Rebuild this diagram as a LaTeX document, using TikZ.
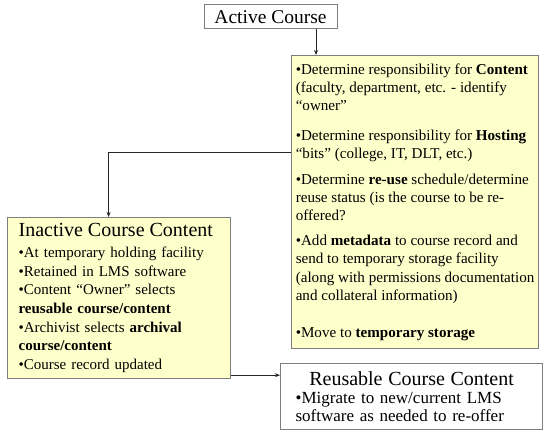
\documentclass[tikz,border=0pt]{standalone}
\usepackage{fontspec}
\setmainfont{Liberation Serif}
\usetikzlibrary{arrows.meta,positioning}
\definecolor{notefill}{RGB}{255,255,204}
\definecolor{boxline}{RGB}{125,125,125}
\newcommand{\titlesize}{\fontsize{20}{22}\selectfont}
\begin{document}
\begin{tikzpicture}[
  x=1pt, y=-1pt,
  titlebox/.style={draw=boxline, line width=1pt, fill=white,
                   minimum width=133pt, minimum height=24pt,
                   inner sep=0pt, font=\fontsize{19.5}{22}\selectfont},
  notebox/.style={draw=boxline, line width=1.2pt, fill=notefill,
                  anchor=north west, inner sep=0pt, align=left},
  arr/.style={-{Stealth[length=5pt,width=4pt]}, line width=0.8pt, black!85}
]
\useasboundingbox (0,0) rectangle (550,435);
\node[titlebox] (active) at (270.5,17) {Active Course};
\node[notebox, minimum width=247pt, minimum height=293pt,
      font=\fontsize{15.1}{18.2}\selectfont] (info) at (291,55)
  {•Determine responsibility for \textbf{Content}\\
   (faculty, department, etc. - identify\\
   “owner”\\[12pt]
   •Determine responsibility for \textbf{Hosting}\\
   “bits” (college, IT, DLT, etc.)\\[7pt]
   •Determine \textbf{re-use} schedule/determine\\
   reuse status (is the course to be re-\\
   offered?\\[7pt]
   •Add \textbf{metadata} to course record and\\
   send to temporary storage facility\\
   (along with permissions documentation\\
   and collateral information)\\[19pt]
   •Move to \textbf{temporary storage}};
\node[notebox, minimum width=223pt, minimum height=161pt, text width=201pt,
      font=\fontsize{15}{18.7}\selectfont] (inactive) at (7,217)
  {{\titlesize Inactive Course Content}\\[2pt]
   •At temporary holding facility\\
   •Retained in LMS software\\
   •Content “Owner” selects\\
   \textbf{reusable course/content}\\
   •Archivist selects \textbf{archival}\\
   \textbf{course/content}\\
   •Course record updated};
\node[notebox, fill=white, minimum width=262pt, minimum height=66pt,
      text width=232pt, font=\fontsize{17}{18.4}\selectfont] (reuse) at (280,363)
  {\centering{\titlesize Reusable Course Content}\par
   \raggedright •Migrate to new/current LMS\\
   software as needed to re-offer};
% connectors
\coordinate (drop) at ([xshift=45.5pt]active.south);
\draw[arr] (drop) -- (drop |- info.north);
\coordinate (split) at ([yshift=-97pt]info.north west);
\draw[arr] (split) -| ([xshift=-10.5pt]inactive.north);
\coordinate (hand) at ([yshift=4pt]inactive.south east);
\draw[arr] (hand) -- (hand -| reuse.west);
\end{tikzpicture}
\end{document}
